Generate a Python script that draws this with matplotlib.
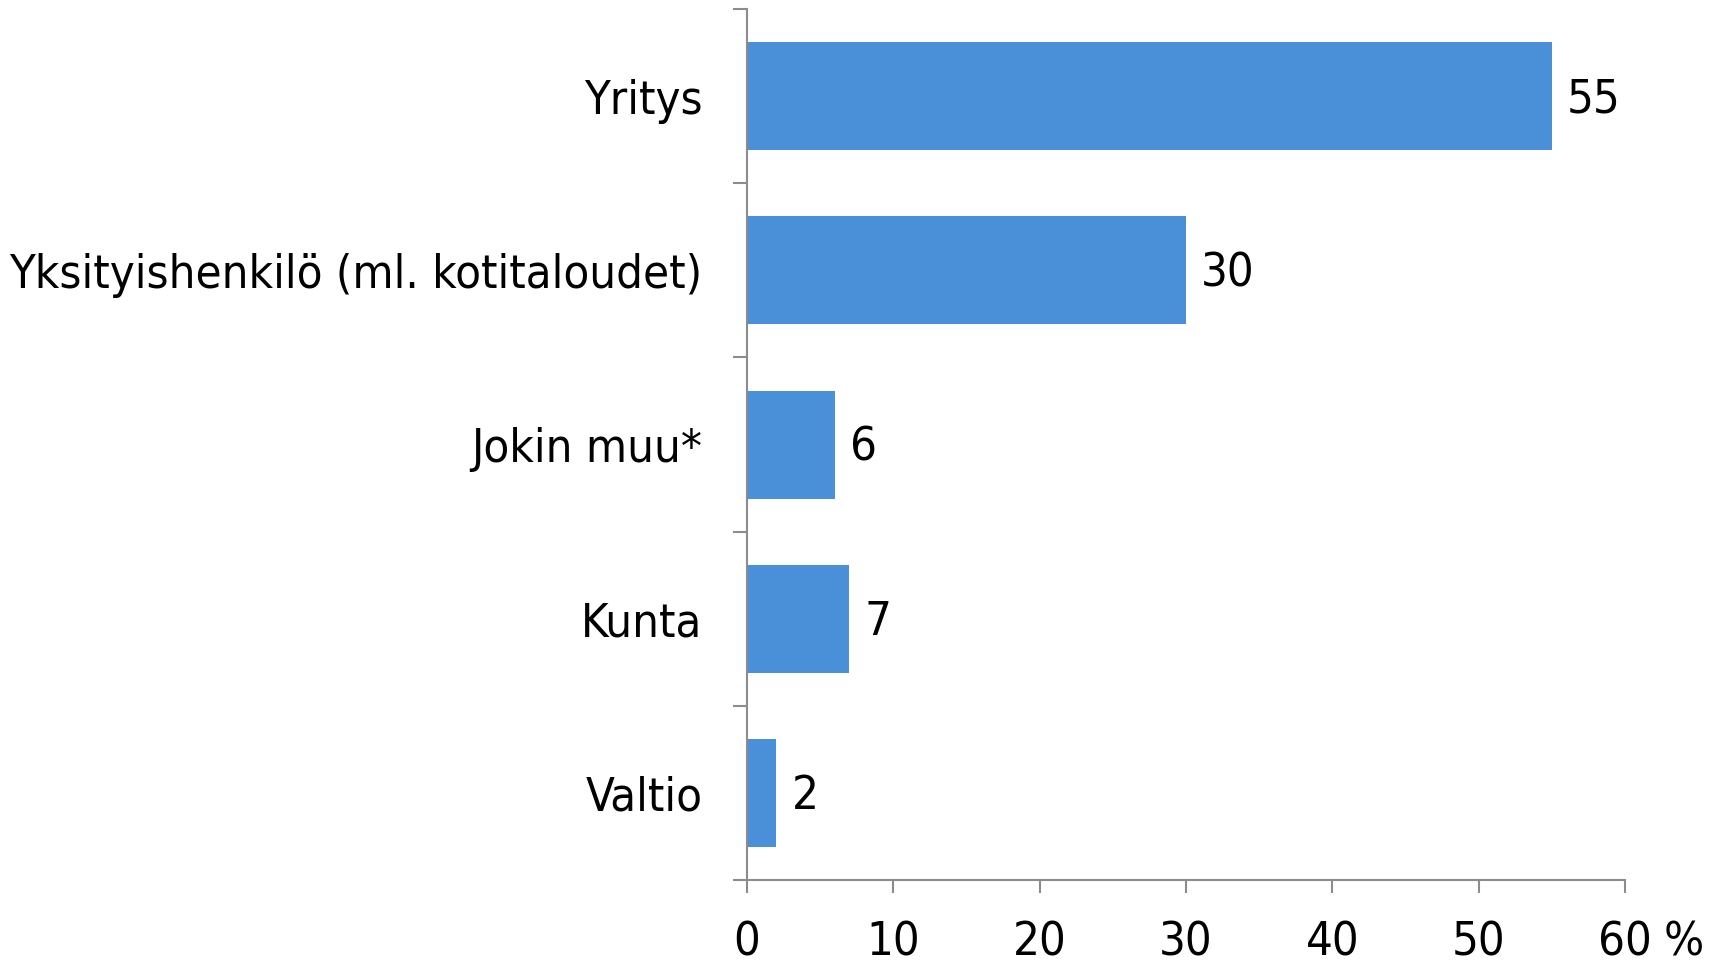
import matplotlib
matplotlib.use('Agg')
import matplotlib.pyplot as plt
from matplotlib import font_manager
import numpy as np

# data, top to bottom
categories = ['Yritys', 'Yksityishenkilö (ml. kotitaloudet)', 'Jokin muu*', 'Kunta', 'Valtio']
values = [55, 30, 6, 7, 2]
x_ticks = [0, 10, 20, 30, 40, 50, 60]

BAR_COLOR = '#4a90d9'
AXIS_COLOR = '#8c8c8c'
FS = 33.8

# DejaVu Sans Condensed is the closest narrow face to the original
cond = [f for f in font_manager.fontManager.ttflist
        if f.name.startswith('DejaVu Sans') and 'Condensed' in f.fname
        and 'Bold' not in f.fname and 'Oblique' not in f.fname]
if cond:
    prop = font_manager.FontProperties(fname=cond[0].fname, size=FS)
else:
    prop = font_manager.FontProperties(family='DejaVu Sans', size=FS * 0.88)

fig = plt.figure(figsize=(17.33, 9.66), dpi=100)
ax = fig.add_axes([0.431, 0.089, 0.5067, 0.9017])

y = np.arange(len(categories))
ax.barh(y, values, height=0.62, color=BAR_COLOR)

for yi, v in zip(y, values):
    ax.annotate(str(v), (v, yi), xytext=(11, -2.5), textcoords='offset points',
                va='center', ha='left', fontproperties=prop)

ax.set_xlim(0, 60)
ax.set_ylim(len(categories) - 0.5, -0.5)

ax.set_xticks(x_ticks)
ax.set_xticklabels([str(t) for t in x_ticks], fontproperties=prop)
ax.set_yticks(y)
ax.set_yticklabels(categories, fontproperties=prop)
ax.set_yticks(np.arange(-0.5, len(categories)), minor=True)

ax.tick_params(axis='y', which='major', length=0, pad=32)
ax.tick_params(axis='y', which='minor', length=10, width=1.5, color=AXIS_COLOR, direction='out')
ax.tick_params(axis='x', length=9.5, width=1.5, color=AXIS_COLOR, pad=20)

for side in ['top', 'right']:
    ax.spines[side].set_visible(False)
for side in ['left', 'bottom']:
    ax.spines[side].set_color(AXIS_COLOR)
    ax.spines[side].set_linewidth(1.5)

ax.annotate('%', (60, 0), xycoords=('data', 'axes fraction'), xytext=(42, -29.5),
            textcoords='offset points', ha='center', va='top', fontproperties=prop)

fig.savefig('out.png', dpi=100)
